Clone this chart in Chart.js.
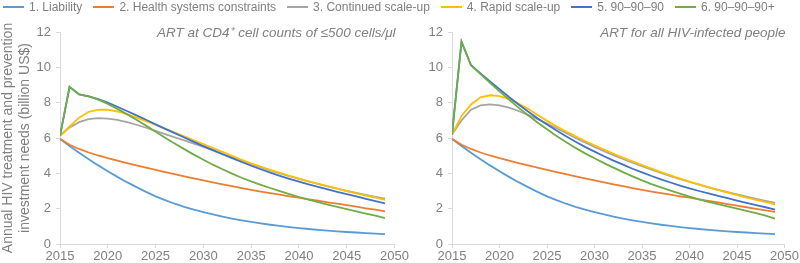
<!DOCTYPE html>
<html>
<head>
<meta charset="utf-8">
<script src="https://cdn.jsdelivr.net/npm/chart.js@4.4.1/dist/chart.umd.min.js"></script>
<style>
  html, body { margin:0; padding:0; background:#fff; }
  #wrap { position:relative; width:800px; height:263px; overflow:hidden; }
  #legend { position:absolute; top:0; left:3px; height:14px; display:flex; align-items:center; white-space:nowrap;
            font-family:'Liberation Sans', Arial, sans-serif; font-size:12px; color:#7f7f7f; }
  .item { display:flex; align-items:center; margin-right:11px; }
  .sw { width:21px; height:2px; margin-right:5px; }
  #c1 { position:absolute; left:0; top:0; }
  #c2 { position:absolute; left:400px; top:0; }
</style>
</head>
<body>
<div id="wrap">
  <canvas id="c1" width="410" height="263"></canvas>
  <canvas id="c2" width="400" height="263"></canvas>
  <div id="legend"></div>
</div>
<script>
// ---- data ----
const years = [2015,2016,2017,2018,2019,2020,2021,2022,2023,2024,2025,2026,2027,2028,2029,2030,2031,2032,2033,2034,2035,2036,2037,2038,2039,2040,2041,2042,2043,2044,2045,2046,2047,2048,2049];
const seriesNames = ['1. Liability','2. Health systems constraints','3. Continued scale-up','4. Rapid scale-up','5. 90\u201390\u201390','6. 90\u201390\u201390+'];
const seriesColors = ['#5B9BD5','#ED7D31','#A5A5A5','#FFC000','#4472C4','#70AD47'];
const panelTitles = ['ART at CD4\u207A cell counts of \u2264500 cells/\u03BCl','ART for all HIV-infected people'];
const yAxisTitle = ['Annual HIV treatment and prevention','investment needs (billion US$)'];
const xTicks = [2015,2020,2025,2030,2035,2040,2045,2050];
const yTicks = [0,2,4,6,8,10,12];

// Panel 1: ART at CD4+ <=500
const liabilityL = [5.95,5.55,5.17,4.8,4.45,4.12,3.8,3.5,3.22,2.95,2.7,2.48,2.28,2.1,1.94,1.8,1.67,1.55,1.44,1.34,1.25,1.17,1.09,1.02,0.96,0.9,0.85,0.8,0.76,0.72,0.68,0.65,0.62,0.59,0.56];
const healthL    = [5.95,5.62,5.38,5.18,5.01,4.86,4.72,4.58,4.45,4.32,4.19,4.07,3.95,3.83,3.71,3.6,3.49,3.38,3.27,3.16,3.06,2.97,2.88,2.79,2.7,2.62,2.53,2.45,2.36,2.28,2.2,2.11,2.02,1.94,1.85];
const continuedL = [6.12,6.6,6.9,7.07,7.12,7.1,7.02,6.9,6.75,6.58,6.4,6.22,6.04,5.86,5.68,5.5,5.3,5.1,4.9,4.7,4.5,4.33,4.16,4.0,3.84,3.68,3.54,3.4,3.26,3.13,3.0,2.89,2.78,2.67,2.57];
const rapidL     = [6.12,6.65,7.15,7.48,7.6,7.6,7.5,7.35,7.15,6.95,6.75,6.53,6.31,6.09,5.87,5.66,5.43,5.21,4.99,4.77,4.56,4.38,4.2,4.03,3.86,3.7,3.55,3.41,3.27,3.13,3.0,2.87,2.74,2.62,2.5];
const ninetyL    = [6.12,8.9,8.47,8.35,8.2,8.0,7.77,7.53,7.28,7.03,6.77,6.52,6.28,6.03,5.78,5.54,5.31,5.08,4.86,4.64,4.43,4.23,4.04,3.86,3.69,3.53,3.38,3.23,3.09,2.95,2.82,2.69,2.56,2.43,2.3];
const ninetyPlusL= [6.12,8.9,8.47,8.35,8.17,7.93,7.65,7.35,7.03,6.7,6.36,6.02,5.69,5.37,5.06,4.77,4.49,4.23,3.98,3.75,3.54,3.35,3.17,2.99,2.82,2.66,2.51,2.37,2.23,2.1,1.97,1.84,1.72,1.6,1.46];

// Panel 2: ART for all HIV-infected people
const liabilityR = [5.95,5.55,5.17,4.8,4.45,4.12,3.8,3.5,3.22,2.95,2.7,2.48,2.28,2.1,1.94,1.8,1.67,1.55,1.44,1.34,1.25,1.17,1.09,1.02,0.96,0.9,0.85,0.8,0.76,0.72,0.68,0.65,0.62,0.59,0.56];
const healthR    = [5.95,5.62,5.38,5.18,5.01,4.86,4.72,4.58,4.45,4.32,4.19,4.07,3.95,3.83,3.71,3.6,3.49,3.38,3.27,3.16,3.06,2.97,2.88,2.79,2.7,2.62,2.53,2.44,2.35,2.26,2.17,2.08,1.99,1.9,1.82];
const continuedR = [6.2,7.0,7.6,7.85,7.9,7.85,7.72,7.53,7.31,7.07,6.82,6.55,6.28,6.01,5.75,5.5,5.26,5.03,4.81,4.6,4.4,4.21,4.02,3.84,3.67,3.51,3.36,3.21,3.07,2.94,2.81,2.68,2.56,2.44,2.33];
const rapidR     = [6.2,7.25,7.9,8.3,8.42,8.37,8.2,7.95,7.65,7.3,6.97,6.66,6.37,6.09,5.83,5.58,5.34,5.11,4.89,4.68,4.47,4.27,4.07,3.88,3.7,3.53,3.37,3.21,3.06,2.91,2.77,2.63,2.5,2.37,2.24];
const ninetyR    = [6.2,11.45,10.12,9.66,9.2,8.76,8.32,7.9,7.5,7.12,6.76,6.42,6.1,5.79,5.5,5.23,4.97,4.72,4.49,4.26,4.05,3.85,3.66,3.48,3.31,3.15,3.0,2.86,2.72,2.59,2.46,2.33,2.2,2.08,1.95];
const ninetyPlusR= [6.2,11.45,10.12,9.62,9.12,8.64,8.17,7.72,7.29,6.88,6.49,6.12,5.77,5.44,5.13,4.85,4.58,4.32,4.07,3.83,3.6,3.39,3.2,3.02,2.85,2.68,2.53,2.39,2.26,2.13,2.0,1.87,1.75,1.6,1.44];

const panelL = [liabilityL, healthL, continuedL, rapidL, ninetyL, ninetyPlusL];
const panelR = [liabilityR, healthR, continuedR, rapidR, ninetyR, ninetyPlusR];

// ---- legend (HTML text) ----
const lg = document.getElementById('legend');
seriesNames.forEach((n, i) => {
  const it = document.createElement('div'); it.className = 'item';
  const sw = document.createElement('div'); sw.className = 'sw'; sw.style.background = seriesColors[i];
  const tx = document.createElement('span'); tx.textContent = n;
  it.appendChild(sw); it.appendChild(tx); lg.appendChild(it);
});

const tickFont = { family: "'Liberation Sans Narrow', 'Liberation Sans', Arial, sans-serif", size: 13 };
const grey = '#808080';
const axisLine = '#d9d9d9';

const panelTitlePlugin = {
  id: 'panelTitle',
  afterDraw(chart, args, opts) {
    const ctx = chart.ctx, a = chart.chartArea;
    ctx.save();
    ctx.font = 'italic 13.5px "Liberation Sans", Arial, sans-serif';
    ctx.fillStyle = grey;
    ctx.textAlign = 'right';
    ctx.textBaseline = 'middle';
    ctx.fillText(opts.text, a.right + 1, a.top + 1);
    ctx.restore();
  }
};

function makeChart(id, panel, title, yWidth, padRight, showYTitle) {
  const datasets = panel.map((arr, i) => ({
    label: seriesNames[i],
    data: years.map((yr, k) => ({ x: yr, y: arr[k] })),
    borderColor: seriesColors[i],
    backgroundColor: seriesColors[i],
    borderWidth: 1.8,
    pointRadius: 0,
    tension: 0,
    fill: false,
    order: 5 - i
  }));
  return new Chart(document.getElementById(id), {
    type: 'line',
    data: { datasets },
    plugins: [panelTitlePlugin],
    options: {
      responsive: false,
      animation: false,
      layout: { padding: { top: 32, right: padRight, left: 0, bottom: 0 } },
      plugins: { legend: { display: false }, tooltip: { enabled: false }, panelTitle: { text: title } },
      scales: {
        x: {
          type: 'linear', min: 2015, max: 2050,
          afterBuildTicks: s => { s.ticks = xTicks.map(v => ({ value: v })); },
          ticks: { font: tickFont, color: grey, padding: 1, maxRotation: 0, callback: v => String(v) },
          grid: { display: true, drawOnChartArea: false, drawTicks: true, tickLength: 4, color: axisLine },
          border: { display: true, color: axisLine, width: 1 },
          afterFit: s => { s.height = 19; }
        },
        y: {
          min: 0, max: 12,
          afterBuildTicks: s => { s.ticks = yTicks.map(v => ({ value: v })); },
          ticks: { font: tickFont, color: grey, padding: 5 },
          grid: { display: true, drawOnChartArea: false, drawTicks: true, tickLength: 4, color: axisLine },
          border: { display: true, color: axisLine, width: 1 },
          title: { display: showYTitle, text: yAxisTitle, color: grey,
                   font: { family: "'Liberation Sans', Arial, sans-serif", size: 14 }, padding: { top: 0, bottom: 2 } },
          afterFit: s => { s.width = yWidth; }
        }
      }
    }
  });
}

makeChart('c1', panelL, panelTitles[0], 60, 14, true);
makeChart('c2', panelR, panelTitles[1], 52, 12, false);
</script>
</body>
</html>
